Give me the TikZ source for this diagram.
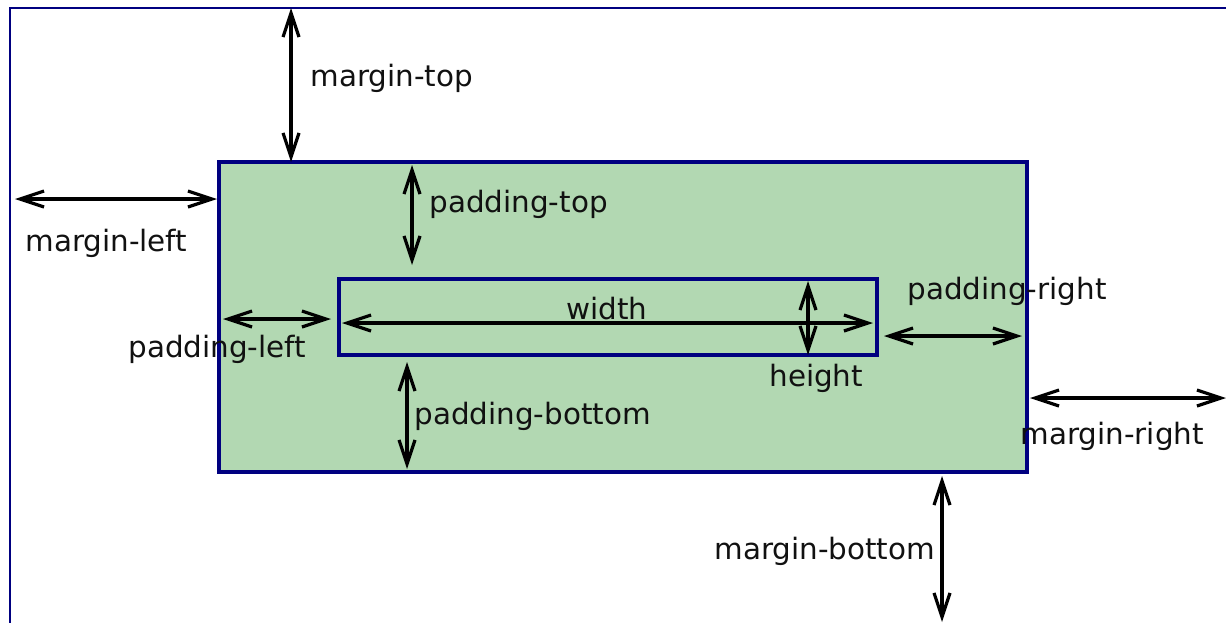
\documentclass[tikz,border=0pt]{standalone}
\usepackage{fontspec}
\setmainfont{DejaVu Sans}
\usepackage{xcolor}
\definecolor{boxNavy}{HTML}{000080}
\definecolor{boxGreen}{HTML}{B2D8B2}
\definecolor{labelGray}{HTML}{111111}
\usetikzlibrary{arrows.meta, positioning, calc}

\begin{document}
\begin{tikzpicture}[
    x=0.5pt, y=-0.5pt,
    pagebox/.style={rectangle, draw=boxNavy, line width=1pt, minimum width=615pt, minimum height=316pt, inner sep=0pt, outer sep=0pt},
    borderbox/.style={rectangle, draw=boxNavy, fill=boxGreen, line width=2pt, minimum width=404pt, minimum height=155pt, inner sep=0pt, outer sep=0pt},
    contentbox/.style={rectangle, draw=boxNavy, line width=2pt, minimum width=269pt, minimum height=38pt, inner sep=0pt, outer sep=0pt},
    dim/.style={{Straight Barb[length=12pt, width=8pt]}-{Straight Barb[length=12pt, width=8pt]}, line width=1.6pt, black},
    lbl/.style={anchor=west, inner sep=0pt, text=labelGray, font=\fontsize{14.7}{17}\selectfont}
]
    \useasboundingbox (0,0) rectangle (1226,622);
    \clip (0,0) rectangle (1226,622);

    % Nodes
    \node[pagebox] (page) at (625,324) {};
    \node[borderbox] (box) at (623,317) {};
    \node[contentbox] (content) at (608,317) {};

    % helper coordinates
    \coordinate (mt) at (291,0);
    \coordinate (ml) at (0,199);
    \coordinate (pt) at (412,0);
    \coordinate (pl) at (0,319);
    \coordinate (wd) at (0,323);
    \coordinate (ht) at (808,0);
    \coordinate (pr) at (0,336);
    \coordinate (pb) at (407,0);
    \coordinate (mr) at (1226,398);
    \coordinate (mb) at (942,622);

    % Connections
    \draw[dim] (page.north -| mt) -- (box.north -| mt);
    \draw[dim, shorten <=2.5pt, shorten >=1pt] (page.west |- ml) -- (box.west |- ml);
    \draw[dim, shorten <=1.5pt, shorten >=7pt] (box.north -| pt) -- (content.north -| pt);
    \draw[dim, shorten <=2pt, shorten >=4pt] (box.west |- pl) -- (content.west |- pl);
    \draw[dim, shorten <=1.5pt, shorten >=2pt] (content.west |- wd) -- (content.east |- wd);
    \draw[dim, shorten <=1pt] (content.north -| ht) -- (content.south -| ht);
    \draw[dim, shorten <=3.5pt, shorten >=2.5pt] (content.east |- pr) -- (box.east |- pr);
    \draw[dim, shorten <=3.5pt, shorten >=1.5pt] (content.south -| pb) -- (box.south -| pb);
    \draw[dim, shorten <=1.5pt] (box.east |- mr) -- (mr);
    \draw[dim, shorten <=2pt] (box.south -| mb) -- (mb);

    % Labels
    \node[lbl] (lmt) at (310,78) {margin-top};
    \node[lbl] (lml) at (25,243) {margin-left};
    \node[lbl] (lpt) at (429,204) {padding-top};
    \node[lbl] (lpl) at (128,349) {padding-left};
    \node[lbl, anchor=center] (lwd) at (607,309) {width};
    \node[lbl] (lht) at (769,378) {height};
    \node[lbl] (lpr) at (907,291) {padding-right};
    \node[lbl] (lpb) at (414,416) {padding-bottom};
    \node[lbl] (lmr) at (1020,436) {margin-right};
    \node[lbl] (lmb) at (714,551) {margin-bottom};

\end{tikzpicture}
\end{document}
